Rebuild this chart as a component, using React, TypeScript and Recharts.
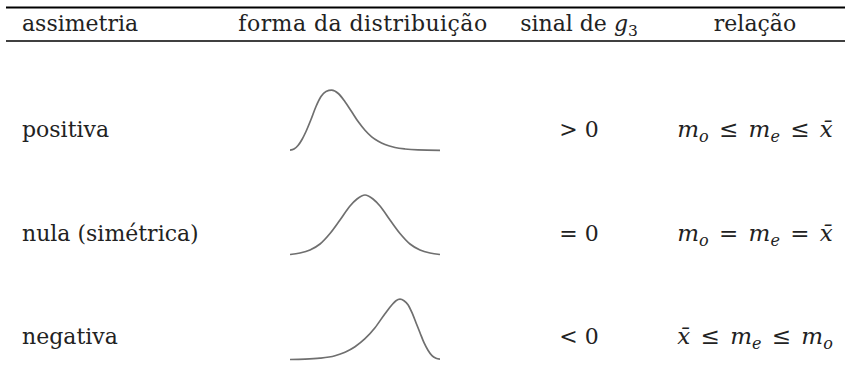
import React from 'react';
import { LineChart, Line, XAxis, YAxis, Customized } from 'recharts';

const W = 851;
const H = 376;
const SERIF = 'DejaVu Serif';
const FS = 22;
const SUB_FS = 15.5;
const REL_FS = 23;
const REL_SUB_FS = 16;
const TEXT_COLOR = '#222222';
const CURVE_COLOR = '#6f6f6f';

// ---- table content ----
const headers = ['assimetria', 'forma da distribuição', 'sinal de', 'relação'];
const rowLabels = ['positiva', 'nula (simétrica)', 'negativa'];
const signs = ['> 0', '= 0', '< 0'];

type Tok = { t: string; sub?: string; it?: boolean };
const relations: Tok[][] = [
  [{ t: 'm', sub: 'o', it: true }, { t: ' ≤ ' }, { t: 'm', sub: 'e', it: true }, { t: ' ≤ ' }, { t: 'x\u0304', it: true }],
  [{ t: 'm', sub: 'o', it: true }, { t: ' = ' }, { t: 'm', sub: 'e', it: true }, { t: ' = ' }, { t: 'x\u0304', it: true }],
  [{ t: 'x\u0304', it: true }, { t: ' ≤ ' }, { t: 'm', sub: 'e', it: true }, { t: ' ≤ ' }, { t: 'm', sub: 'o', it: true }],
];

// ---- curve shapes (x: horizontal position 0..150, h: height above base) ----
const positiveCurve = [
  { x: 0, h: 0.3 }, { x: 4, h: 1.5 }, { x: 8, h: 5 }, { x: 12, h: 11 }, { x: 16, h: 19 },
  { x: 21, h: 31 }, { x: 26, h: 44 }, { x: 31, h: 54 }, { x: 36, h: 59 }, { x: 41.7, h: 60.3 },
  { x: 48.3, h: 57 }, { x: 55, h: 48.7 }, { x: 61.7, h: 38.7 }, { x: 68.3, h: 28.7 },
  { x: 75, h: 20.3 }, { x: 81.7, h: 13.7 }, { x: 88.3, h: 9.3 }, { x: 95, h: 6 },
  { x: 105, h: 3 }, { x: 115, h: 1.5 }, { x: 128, h: 0.6 }, { x: 150, h: 0.2 },
];
const symmetricCurve = [
  { x: 0, h: 0.5 }, { x: 10, h: 2 }, { x: 20, h: 5 }, { x: 30, h: 11 }, { x: 40, h: 21.5 },
  { x: 50, h: 35 }, { x: 60, h: 49 }, { x: 67, h: 56 }, { x: 75, h: 60 }, { x: 83, h: 56 },
  { x: 90, h: 49 }, { x: 100, h: 35 }, { x: 110, h: 21.5 }, { x: 120, h: 11 }, { x: 130, h: 5 },
  { x: 140, h: 2 }, { x: 150, h: 0.5 },
];
const negativeCurve = [
  { x: 0, h: 0.2 }, { x: 15, h: 0.5 }, { x: 30, h: 1.5 }, { x: 45, h: 4 }, { x: 55, h: 7.5 },
  { x: 65, h: 13 }, { x: 75, h: 21 }, { x: 85, h: 32 }, { x: 95, h: 46 }, { x: 102, h: 55 },
  { x: 106, h: 59 }, { x: 110, h: 60.5 }, { x: 114, h: 59 }, { x: 118, h: 55 }, { x: 122, h: 47 },
  { x: 126, h: 37 }, { x: 130, h: 27 }, { x: 134, h: 17 }, { x: 138, h: 9.5 }, { x: 142, h: 4 },
  { x: 146, h: 1.5 }, { x: 150, h: 0.5 },
];
const curves = [positiveCurve, symmetricCurve, negativeCurve];

// ---- layout ----
const PLOT_TOP = 80;
const PLOT_BOTTOM = 370;
const CURVE_LEFT = 290;
const CURVE_RIGHT = 440;
const curveBase = [150.5, 255, 359.7];
const textBase = [137, 240.5, 344];
const HEADER_BASE = 31;
const RULE_LEFT = 6;
const RULE_RIGHT = 845;
const TOP_RULE_Y = 7.5;
const MID_RULE_Y = 41;
const COL_LABEL_X = 22;
const COL_SHAPE_X = 363;
const COL_SIGN_X = 579;
const COL_REL_X = 755;

const txtProps = { fontFamily: SERIF, fontSize: FS, fill: TEXT_COLOR };

function Rel({ toks, x, y }: { toks: Tok[]; x: number; y: number }) {
  const parts: React.ReactNode[] = [];
  let shifted = 0;
  toks.forEach((tk, i) => {
    parts.push(
      <tspan key={`m${i}`} dy={-shifted} fontStyle={tk.it ? 'italic' : 'normal'} fontSize={REL_FS}>
        {tk.t}
      </tspan>
    );
    shifted = 0;
    if (tk.sub) {
      parts.push(
        <tspan key={`s${i}`} dy={5} fontStyle="italic" fontSize={REL_SUB_FS}>
          {tk.sub}
        </tspan>
      );
      shifted = 5;
    }
  });
  return (
    <text x={x} y={y} textAnchor="middle" {...txtProps} style={{ whiteSpace: 'pre', wordSpacing: 3 }}>
      {parts}
    </text>
  );
}

function TableText() {
  return (
    <g>
      <line x1={RULE_LEFT} x2={RULE_RIGHT} y1={TOP_RULE_Y} y2={TOP_RULE_Y} stroke="#000" strokeWidth={2} />
      <line x1={RULE_LEFT} x2={RULE_RIGHT} y1={MID_RULE_Y} y2={MID_RULE_Y} stroke="#000" strokeWidth={1.5} />
      <text x={COL_LABEL_X} y={HEADER_BASE} {...txtProps}>{headers[0]}</text>
      <text x={COL_SHAPE_X} y={HEADER_BASE} textAnchor="middle" {...txtProps} style={{ letterSpacing: 0.45 }}>{headers[1]}</text>
      <text x={COL_SIGN_X} y={HEADER_BASE} textAnchor="middle" {...txtProps} style={{ whiteSpace: 'pre' }}>
        <tspan>{headers[2] + ' '}</tspan>
        <tspan fontStyle="italic">g</tspan>
        <tspan dy={5} fontSize={SUB_FS}>3</tspan>
      </text>
      <text x={COL_REL_X} y={HEADER_BASE} textAnchor="middle" {...txtProps}>{headers[3]}</text>
      {rowLabels.map((lab, i) => (
        <text key={`l${i}`} x={COL_LABEL_X} y={textBase[i]} {...txtProps}>{lab}</text>
      ))}
      {signs.map((s, i) => (
        <text key={`s${i}`} x={COL_SIGN_X} y={textBase[i]} textAnchor="middle" {...txtProps} style={{ whiteSpace: 'pre' }}>{s}</text>
      ))}
      {relations.map((r, i) => (
        <Rel key={`r${i}`} toks={r} x={COL_REL_X} y={textBase[i]} />
      ))}
    </g>
  );
}

export default function App() {
  const plotH = PLOT_BOTTOM - PLOT_TOP;
  return (
    <div style={{ position: 'absolute', left: 0, top: 0, width: W, height: H, background: '#fff' }}>
      <LineChart
        width={W}
        height={H}
        margin={{ top: PLOT_TOP, bottom: H - PLOT_BOTTOM, left: CURVE_LEFT, right: W - CURVE_RIGHT }}
      >
        <XAxis type="number" dataKey="x" domain={[0, 150]} hide allowDataOverflow />
        {curveBase.map((b, i) => (
          <YAxis
            key={`y${i}`}
            yAxisId={`row${i}`}
            type="number"
            domain={[-(PLOT_BOTTOM - b), plotH - (PLOT_BOTTOM - b)]}
            hide
            allowDataOverflow
          />
        ))}
        {curves.map((c, i) => (
          <Line
            key={`c${i}`}
            yAxisId={`row${i}`}
            data={c}
            dataKey="h"
            type="monotone"
            dot={false}
            activeDot={false}
            stroke={CURVE_COLOR}
            strokeWidth={1.7}
            isAnimationActive={false}
          />
        ))}
        <Customized component={TableText} />
      </LineChart>
    </div>
  );
}
